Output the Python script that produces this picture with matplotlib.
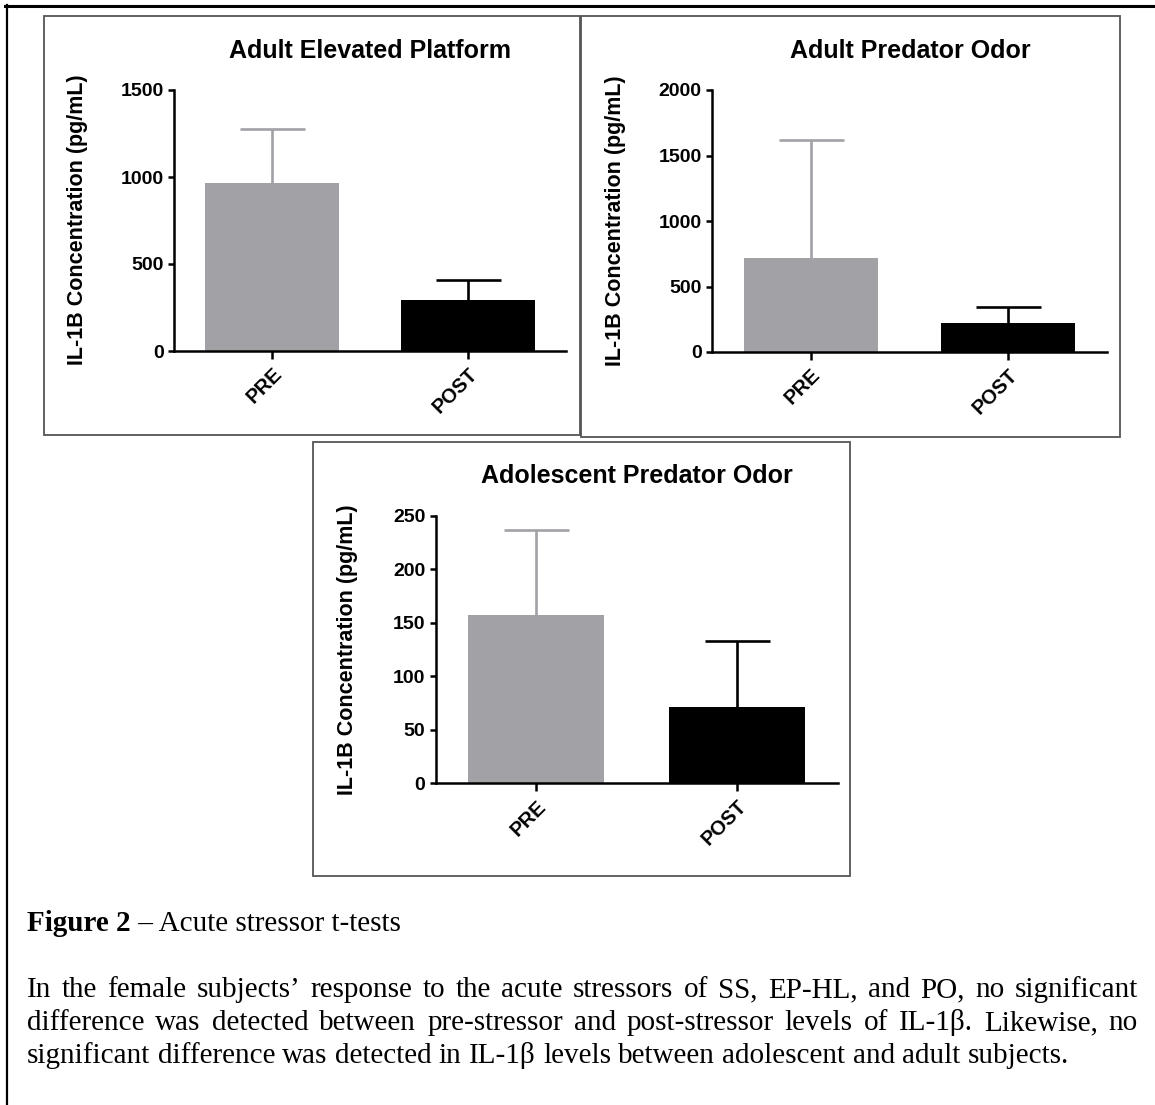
import matplotlib
matplotlib.use("Agg")
import matplotlib.pyplot as plt
from matplotlib.patches import Rectangle
from matplotlib.lines import Line2D

# ---------------- data ----------------
categories = ["PRE", "POST"]
titles = ["Adult Elevated Platform", "Adult Predator Odor", "Adolescent Predator Odor"]
ylabel = "IL-1B Concentration (pg/mL)"

ep_means = [967, 294]
ep_err = [307, 115]
ep_ticks = [0, 500, 1000, 1500]

po_means = [715, 219]
po_err = [903, 127]
po_ticks = [0, 500, 1000, 1500, 2000]

ado_means = [157, 71]
ado_err = [80, 62]
ado_ticks = [0, 50, 100, 150, 200, 250]

caption_bold = "Figure 2"
caption_rest = " \u2013 Acute stressor t-tests"
para_lines = [
    "In the female subjects\u2019 response to the acute stressors of SS, EP-HL, and PO, no significant",
    "difference was detected between pre-stressor and post-stressor levels of IL-1\u03b2. Likewise, no",
    "significant difference was detected in IL-1\u03b2 levels between adolescent and adult subjects.",
]

# ---------------- layout ----------------
W, H = 1155, 1105
fig = plt.figure(figsize=(W / 100, H / 100), dpi=100)
fig.patch.set_facecolor("white")

GRAY = "#A2A1A6"
bar_colors = [GRAY, "black"]
SANS = ["Liberation Sans", "DejaVu Sans"]
SERIF = ["Liberation Serif", "DejaVu Serif"]


def fx(px):
    return px / W


def fy(py):
    return 1 - py / H


def add_box(x0, y0, x1, y1, lw=1.3, color="#555555"):
    fig.add_artist(Rectangle((fx(x0), fy(y1)), fx(x1) - fx(x0), fy(y0) - fy(y1),
                             transform=fig.transFigure, fill=False,
                             edgecolor=color, linewidth=lw))


# outer page border (top and left)
fig.add_artist(Line2D([fx(5), fx(1155)], [fy(5.5), fy(5.5)], transform=fig.transFigure,
                      color="black", linewidth=2.2))
fig.add_artist(Line2D([fx(6.5), fx(6.5)], [fy(5), fy(1105)], transform=fig.transFigure,
                      color="black", linewidth=1.6))

# panel boxes
add_box(44, 16, 580, 435)
add_box(581, 16, 1120, 437)
add_box(313, 442, 850, 876)

panels = [
    dict(rect=(174, 90, 566, 351), means=ep_means, err=ep_err, ticks=ep_ticks,
         title=titles[0], tpos=(370, 51), ypos=(77.5, 220)),
    dict(rect=(712, 90, 1107, 352), means=po_means, err=po_err, ticks=po_ticks,
         title=titles[1], tpos=(910, 51), ypos=(615.5, 221)),
    dict(rect=(435.7, 516, 837.5, 783.3), means=ado_means, err=ado_err, ticks=ado_ticks,
         title=titles[2], tpos=(636.5, 476), ypos=(348, 650)),
]

for p in panels:
    x0, y0, x1, y1 = p["rect"]
    ax = fig.add_axes([fx(x0), fy(y1), fx(x1) - fx(x0), fy(y0) - fy(y1)])
    xs = list(range(len(categories)))
    for i in xs:
        eb = ax.errorbar(i, p["means"][i], yerr=[[0], [p["err"][i]]], fmt="none",
                         ecolor=bar_colors[i], elinewidth=1.9, capsize=23.4,
                         capthick=1.9, zorder=1)
        caps = eb[1]
        if len(caps) > 0:
            caps[0].set_visible(False)   # hide the lower cap (one-sided SEM)
    ax.bar(xs, p["means"], width=0.68, color=bar_colors, zorder=2)
    ax.set_xlim(-0.5, 1.5)
    ax.set_ylim(0, p["ticks"][-1])
    ax.set_yticks(p["ticks"])
    ax.set_yticklabels([str(t) for t in p["ticks"]], fontfamily=SANS,
                       fontweight="bold", fontsize=14)
    ax.set_xticks(xs)
    ax.set_xticklabels(categories, rotation=45, ha="right", va="top",
                       rotation_mode="anchor", fontfamily=SANS,
                       fontweight="bold", fontsize=14.5)
    for s in ["top", "right"]:
        ax.spines[s].set_visible(False)
    for s in ["left", "bottom"]:
        ax.spines[s].set_linewidth(1.8)
        ax.spines[s].set_capstyle("projecting")
    ax.tick_params(axis="y", length=4.5, width=1.8, pad=3)
    ax.tick_params(axis="x", length=5.5, width=1.8, pad=4)
    ax.patch.set_alpha(0)
    fig.text(fx(p["tpos"][0]), fy(p["tpos"][1]), p["title"], ha="center", va="center",
             fontfamily=SANS, fontweight="bold", fontsize=18)
    fig.text(fx(p["ypos"][0]), fy(p["ypos"][1]), ylabel, ha="center", va="center",
             rotation=90, fontfamily=SANS, fontweight="bold", fontsize=15.5)

# ---------------- caption ----------------
CAP = 21.0
renderer = fig.canvas.get_renderer()
left_px = 27
t1 = fig.text(fx(left_px), fy(931), caption_bold, ha="left", va="baseline",
              fontfamily=SERIF, fontweight="bold", fontsize=CAP)
w1 = t1.get_window_extent(renderer=renderer).width
fig.text(fx(left_px + w1), fy(931), caption_rest, ha="left", va="baseline",
         fontfamily=SERIF, fontsize=CAP)

right_px = 1138
baselines = [997, 1030, 1063]
for li, (line, yb) in enumerate(zip(para_lines, baselines)):
    words = line.split(" ")
    objs = [fig.text(0, fy(yb), w, ha="left", va="baseline", fontfamily=SERIF,
                     fontsize=CAP) for w in words]
    widths = [o.get_window_extent(renderer=renderer).width for o in objs]
    space = CAP * 0.25 * 100 / 72
    if li < len(para_lines) - 1:
        space = (right_px - left_px - sum(widths)) / (len(words) - 1)
    x = left_px
    for o, w in zip(objs, widths):
        o.set_x(fx(x))
        x += w + space

fig.savefig("out.png", dpi=100, facecolor="white")
